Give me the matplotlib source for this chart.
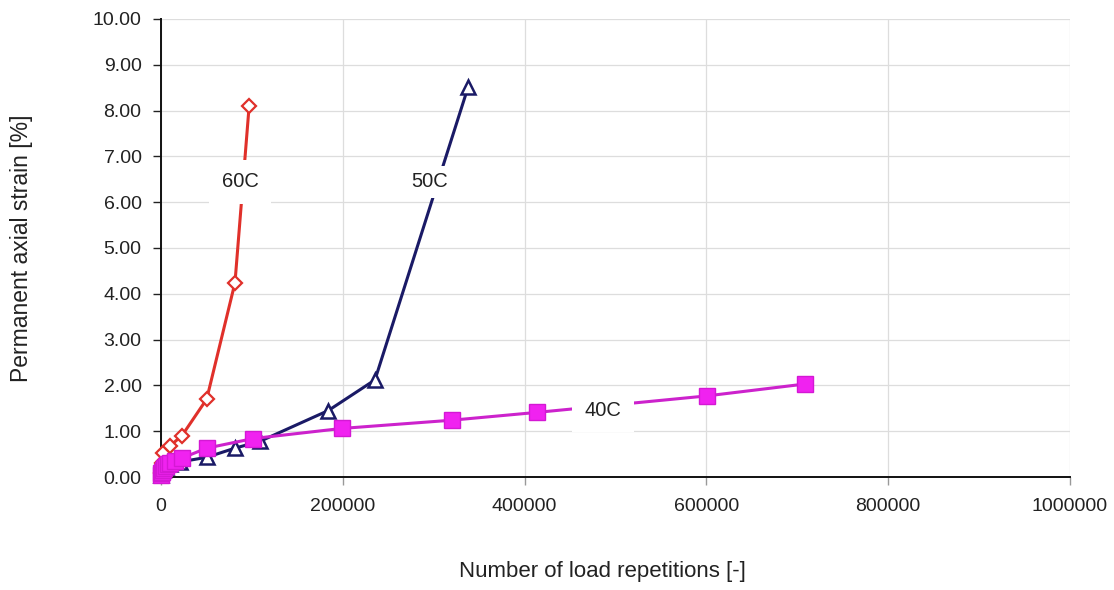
import matplotlib.pyplot as plt

plt.rcParams['font.family'] = ['Liberation Sans', 'DejaVu Sans']

# Permanent axial strain [%] versus number of load repetitions, per test temperature
reps_60c = [0, 1000, 2000, 9900, 23000, 50300, 81400, 97000]
strain_60c = [0.08, 0.30, 0.52, 0.68, 0.90, 1.70, 4.24, 8.10]

reps_50c = [0, 2000, 5000, 10000, 20900, 50300, 81400, 109000, 184000, 235400, 338000]
strain_50c = [0.05, 0.15, 0.22, 0.28, 0.33, 0.43, 0.63, 0.78, 1.45, 2.12, 8.52]

reps_40c = [0, 500, 1000, 2000, 3500, 5000, 7500, 10000, 15000, 22700, 50300,
            101500, 198800, 319800, 413300, 600300, 708500]
strain_40c = [0.04, 0.08, 0.12, 0.16, 0.20, 0.24, 0.28, 0.31, 0.35, 0.41, 0.63,
              0.84, 1.06, 1.24, 1.41, 1.77, 2.03]

y_ticks = [0, 1, 2, 3, 4, 5, 6, 7, 8, 9, 10]
x_ticks = [0, 200000, 400000, 600000, 800000, 1000000]

OUTFILE = "out.png"
TEXT_COLOR = "#222222"


def Main():
    fig = plt.figure(figsize=(11.14, 5.90), dpi=100)
    ax = fig.add_axes([0.1445, 0.1915, 0.816, 0.7765])

    ax.plot(reps_60c, strain_60c, color="#e0302a", lw=2.2, marker="D", ms=7,
            mfc="white", mec="#e0302a", mew=1.6, zorder=3, clip_on=False)
    ax.plot(reps_50c, strain_50c, color="#1a1a66", lw=2.2, marker="^", ms=10,
            mfc="white", mec="#1a1a66", mew=1.8, zorder=4, clip_on=False)
    ax.plot(reps_40c, strain_40c, color="#cc22cc", lw=2.2, marker="s", ms=11,
            mfc="#f022f0", mec="#d418d4", mew=1.0, zorder=5, clip_on=False)

    ax.text(86900, 6.44, "60C", ha="center", va="center", fontsize=14.5,
            color=TEXT_COLOR, bbox=dict(facecolor="white", edgecolor="none", pad=9), zorder=6)
    ax.text(296000, 6.44, "50C", ha="center", va="center", fontsize=14.5,
            color=TEXT_COLOR, bbox=dict(facecolor="white", edgecolor="none", pad=5), zorder=6)
    ax.text(486000, 1.46, "40C", ha="center", va="center", fontsize=14.5,
            color=TEXT_COLOR, bbox=dict(facecolor="white", edgecolor="none", pad=9), zorder=6)

    ax.set_xlim(0, 1000000)
    ax.set_ylim(0, 10)
    ax.set_xticks(x_ticks)
    ax.set_xticklabels([str(v) for v in x_ticks])
    ax.set_yticks(y_ticks)
    ax.set_yticklabels([f"{v:.2f}" for v in y_ticks])

    ax.grid(True, color="#dddddd", lw=0.9, zorder=0)
    ax.set_axisbelow(True)
    for side in ("top", "right"):
        ax.spines[side].set_visible(False)
    for side in ("left", "bottom"):
        ax.spines[side].set_color("#111111")
        ax.spines[side].set_linewidth(1.4)
    ax.tick_params(axis="both", labelsize=14, colors=TEXT_COLOR, length=6, width=1)
    ax.tick_params(axis="x", pad=9, colors="#999999", labelcolor=TEXT_COLOR)
    ax.tick_params(axis="y", pad=8)

    ax.set_xlabel("Number of load repetitions [-]", fontsize=16, color=TEXT_COLOR)
    ax.set_ylabel("Permanent axial strain [%]", fontsize=16.5, color=TEXT_COLOR)
    ax.xaxis.set_label_coords(0.486, -0.183)
    ax.yaxis.set_label_coords(-0.141, 0.5)

    fig.savefig(OUTFILE, dpi=100)
    plt.close(fig)


if __name__ == "__main__":
    Main()
